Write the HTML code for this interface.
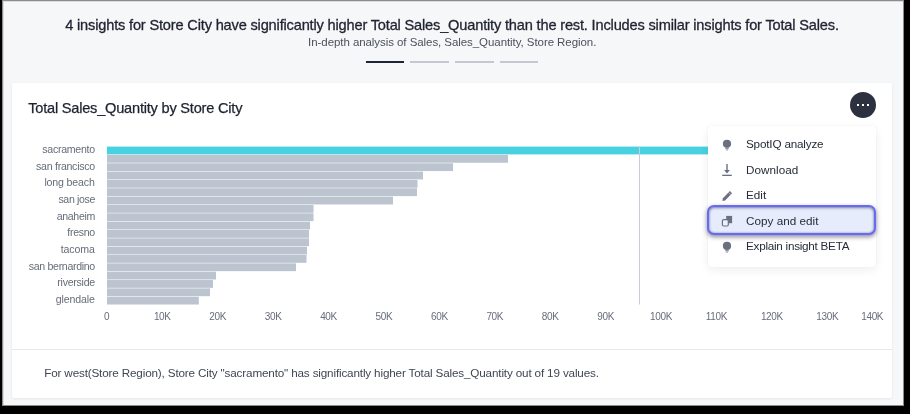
<!DOCTYPE html>
<html>
<head>
<meta charset="utf-8">
<style>
*{box-sizing:border-box;margin:0;padding:0}
html,body{width:910px;height:414px;overflow:hidden;background:#000;font-family:"Liberation Sans",sans-serif;}
#frame{position:absolute;left:2px;top:0;width:902px;height:406px;background:#8c8c8c}
#topline{position:absolute;left:3px;top:1px;width:900px;height:404px;background:#f6f7f9;box-shadow:inset 1px 1px 0 #dcdde0}
#layer{position:absolute;left:0;top:0;width:910px;height:414px;will-change:transform}
.t{position:absolute;white-space:nowrap;line-height:20px}
.c{transform:translateX(-50%)}
.r{transform:translateX(-100%)}
.dash{position:absolute;top:61px;height:2px;background:#c3c8d2}
#card{position:absolute;left:12px;top:83px;width:880px;height:315px;background:#fff;border-radius:2px;box-shadow:0 1px 3px rgba(20,30,50,0.07)}
#more{position:absolute;left:850px;top:91.8px;width:26px;height:26px;border-radius:13px;background:#2c303f}
#more i{position:absolute;top:12px;width:2.2px;height:2.2px;background:#fff}
#divider{position:absolute;left:12px;top:349px;width:880px;height:1px;background:#e6e8ec}
#menu{position:absolute;left:708px;top:126px;width:168.2px;height:140.6px;background:#fff;border-radius:4px;box-shadow:0 3px 10px rgba(30,35,50,0.07),0 0 2px rgba(30,35,50,0.05)}
#hl{position:absolute;left:707.2px;top:204.9px;width:168.7px;height:30px;background:#e6ecfc;border:2px solid #6769f8;border-radius:7px;box-shadow:0 2px 4px rgba(30,30,50,0.5),inset 0 1px 3px rgba(50,60,90,0.5),inset 0 0 2px rgba(50,60,90,0.4)}
svg{position:absolute;left:0;top:0}
</style>
</head>
<body>
<div id="frame"></div>
<div id="topline"></div>
<div id="layer">
<div class="t c" style="left:452px;top:15.00px;font-size:14.6px;letter-spacing:-0.173px;color:#1d232f;-webkit-text-stroke:0.3px #1d232f">4 insights for Store City have significantly higher Total Sales_Quantity than the rest. Includes similar insights for Total Sales.</div>
<div class="t c" style="left:452.2px;top:32.00px;font-size:11.5px;letter-spacing:-0.065px;color:#4a515e;">In-depth analysis of Sales, Sales_Quantity, Store Region.</div>
<div class="dash" style="left:366px;width:38px;background:#1f2533"></div>
<div class="dash" style="left:410px;width:39px"></div>
<div class="dash" style="left:455px;width:39px"></div>
<div class="dash" style="left:500px;width:38px"></div>
<div id="card"></div>
<div class="t " style="left:28.2px;top:98.00px;font-size:14.6px;letter-spacing:-0.217px;color:#1d232f;-webkit-text-stroke:0.25px #1d232f">Total Sales_Quantity by Store City</div>
<div id="more"><i style="left:6.8px"></i><i style="left:11.9px"></i><i style="left:17px"></i></div>
<svg width="910" height="414" viewBox="0 0 910 414">
<g fill="#bbc4cf">
<rect x="107.0" y="146.60" width="640.0" height="7.8" fill="#48d1e0"/>
<rect x="107.0" y="154.94" width="401.0" height="7.8"/>
<rect x="107.0" y="163.28" width="346.0" height="7.8"/>
<rect x="107.0" y="171.62" width="316.0" height="7.8"/>
<rect x="107.0" y="179.96" width="310.5" height="7.8"/>
<rect x="107.0" y="188.30" width="310.0" height="7.8"/>
<rect x="107.0" y="196.64" width="286.0" height="7.8"/>
<rect x="107.0" y="204.98" width="206.5" height="7.8"/>
<rect x="107.0" y="213.32" width="206.5" height="7.8"/>
<rect x="107.0" y="221.66" width="203.0" height="7.8"/>
<rect x="107.0" y="230.00" width="202.0" height="7.8"/>
<rect x="107.0" y="238.34" width="202.0" height="7.8"/>
<rect x="107.0" y="246.68" width="200.0" height="7.8"/>
<rect x="107.0" y="255.02" width="199.5" height="7.8"/>
<rect x="107.0" y="263.36" width="189.0" height="7.8"/>
<rect x="107.0" y="271.70" width="109.0" height="7.8"/>
<rect x="107.0" y="280.04" width="106.0" height="7.8"/>
<rect x="107.0" y="288.38" width="103.0" height="7.8"/>
<rect x="107.0" y="296.72" width="91.8" height="7.8"/>
</g>
<rect x="639" y="146" width="1" height="158.5" fill="#c9cdd5"/>
</svg>
<div class="t " style="left:0px;top:139.00px;font-size:10.6px;letter-spacing:-0.273px;color:#666c78;width:94.87299999999999px;text-align:right">sacramento</div>
<div class="t " style="left:0px;top:156.00px;font-size:10.6px;letter-spacing:-0.277px;color:#666c78;width:94.877px;text-align:right">san francisco</div>
<div class="t " style="left:0px;top:172.00px;font-size:10.6px;letter-spacing:-0.149px;color:#666c78;width:94.749px;text-align:right">long beach</div>
<div class="t " style="left:0px;top:189.00px;font-size:10.6px;letter-spacing:-0.367px;color:#666c78;width:94.967px;text-align:right">san jose</div>
<div class="t " style="left:0px;top:206.00px;font-size:10.6px;letter-spacing:-0.34px;color:#666c78;width:94.94px;text-align:right">anaheim</div>
<div class="t " style="left:0px;top:222.00px;font-size:10.6px;letter-spacing:-0.311px;color:#666c78;width:94.911px;text-align:right">fresno</div>
<div class="t " style="left:0px;top:239.00px;font-size:10.6px;letter-spacing:-0.13px;color:#666c78;width:94.72999999999999px;text-align:right">tacoma</div>
<div class="t " style="left:0px;top:256.00px;font-size:10.6px;letter-spacing:-0.322px;color:#666c78;width:94.922px;text-align:right">san bernardino</div>
<div class="t " style="left:0px;top:272.00px;font-size:10.6px;letter-spacing:-0.281px;color:#666c78;width:94.881px;text-align:right">riverside</div>
<div class="t " style="left:0px;top:289.00px;font-size:10.6px;letter-spacing:-0.123px;color:#666c78;width:94.723px;text-align:right">glendale</div>
<div class="t c" style="left:106.53px;top:306.50px;font-size:10px;letter-spacing:-0.35px;color:#676d79;">0</div>
<div class="t c" style="left:162.25px;top:306.50px;font-size:10px;letter-spacing:-0.35px;color:#676d79;">10K</div>
<div class="t c" style="left:217.66px;top:306.50px;font-size:10px;letter-spacing:-0.35px;color:#676d79;">20K</div>
<div class="t c" style="left:273.08px;top:306.50px;font-size:10px;letter-spacing:-0.35px;color:#676d79;">30K</div>
<div class="t c" style="left:328.5px;top:306.50px;font-size:10px;letter-spacing:-0.35px;color:#676d79;">40K</div>
<div class="t c" style="left:383.93px;top:306.50px;font-size:10px;letter-spacing:-0.35px;color:#676d79;">50K</div>
<div class="t c" style="left:439.34px;top:306.50px;font-size:10px;letter-spacing:-0.35px;color:#676d79;">60K</div>
<div class="t c" style="left:494.76px;top:306.50px;font-size:10px;letter-spacing:-0.35px;color:#676d79;">70K</div>
<div class="t c" style="left:550.19px;top:306.50px;font-size:10px;letter-spacing:-0.35px;color:#676d79;">80K</div>
<div class="t c" style="left:605.61px;top:306.50px;font-size:10px;letter-spacing:-0.35px;color:#676d79;">90K</div>
<div class="t c" style="left:661.03px;top:306.50px;font-size:10px;letter-spacing:-0.35px;color:#676d79;">100K</div>
<div class="t c" style="left:716.45px;top:306.50px;font-size:10px;letter-spacing:-0.35px;color:#676d79;">110K</div>
<div class="t c" style="left:771.87px;top:306.50px;font-size:10px;letter-spacing:-0.35px;color:#676d79;">120K</div>
<div class="t c" style="left:827.29px;top:306.50px;font-size:10px;letter-spacing:-0.35px;color:#676d79;">130K</div>
<div class="t c" style="left:872.23px;top:306.50px;font-size:10px;letter-spacing:-0.35px;color:#676d79;">140K</div>
<div id="divider"></div>
<div class="t " style="left:44.2px;top:362.50px;font-size:11.7px;letter-spacing:-0.156px;color:#3f4654;">For west(Store Region), Store City "sacramento" has significantly higher Total Sales_Quantity out of 19 values.</div>
<div id="menu"></div>
<div id="hl"></div>
<div class="t " style="left:746px;top:133.50px;font-size:11.7px;letter-spacing:-0.179px;color:#262c38;">SpotIQ analyze</div>
<div class="t " style="left:746px;top:159.50px;font-size:11.7px;letter-spacing:0.045px;color:#262c38;">Download</div>
<div class="t " style="left:746px;top:184.50px;font-size:11.7px;letter-spacing:0.0px;color:#262c38;">Edit</div>
<div class="t " style="left:746px;top:210.50px;font-size:11.7px;letter-spacing:0.023px;color:#262c38;">Copy and edit</div>
<div class="t " style="left:746px;top:235.50px;font-size:11.7px;letter-spacing:-0.252px;color:#262c38;">Explain insight BETA</div>
<svg width="910" height="414" viewBox="0 0 910 414">
<g fill="#6b7080">
<circle cx="727" cy="143.75" r="4.1"/><rect x="725.4" y="147.35" width="3.3" height="1.9" opacity="0.75"/><rect x="726" y="149.55" width="2" height="1" opacity="0.6"/>
<circle cx="727" cy="245.95" r="4.1"/><rect x="725.4" y="249.55" width="3.3" height="1.9" opacity="0.75"/><rect x="726" y="251.75" width="2" height="1" opacity="0.6"/>
<!-- download -->
<rect x="726.3" y="164" width="1.4" height="6.6"/>
<path d="M724.1 170 L729.9 170 L727 173.5 Z"/>
<rect x="722.2" y="174.7" width="9.6" height="1.3"/>
<!-- pencil -->
<path d="M722.4 201 L722.9 198.3 L729.9 191.1 L732.1 193.3 L725.1 200.5 Z"/>
<!-- copy -->
<rect x="726.2" y="215.9" width="5.9" height="7.3"/>
</g>
<path d="M728.6 192.4 L730.8 194.6" stroke="#fff" stroke-width="0.5"/>
<rect x="722.4" y="219.7" width="5.9" height="6.3" rx="1.2" fill="#eceffc" stroke="#6b7080" stroke-width="1.2"/>
</svg>
</div>
</body>
</html>
